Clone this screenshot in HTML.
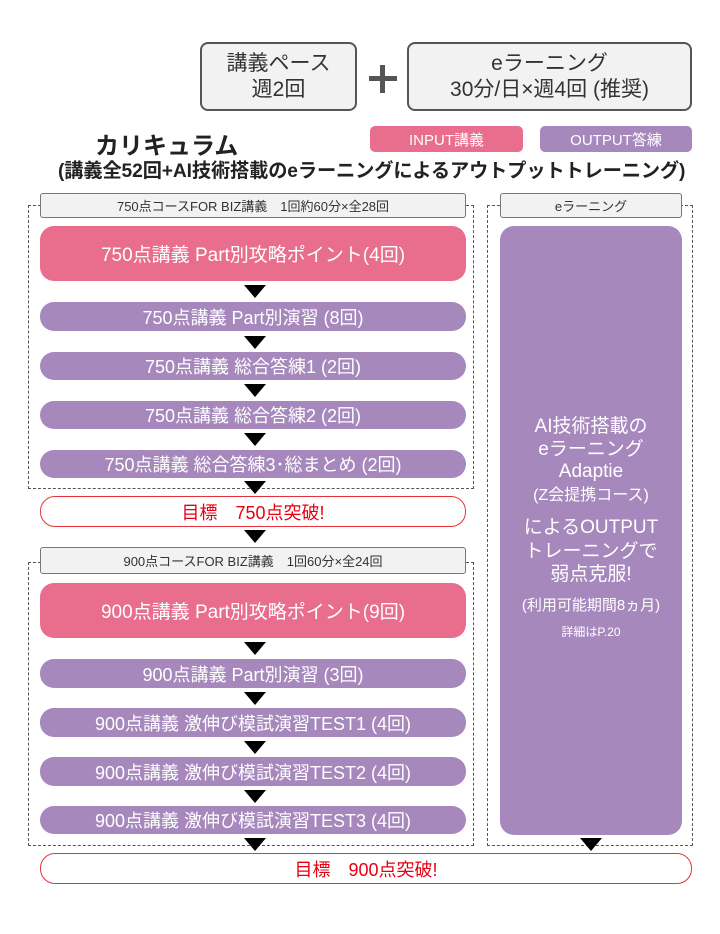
<!DOCTYPE html>
<html><head><meta charset="utf-8"><style>
*{margin:0;padding:0;box-sizing:border-box}
body{width:720px;height:934px;background:#fff;position:relative;overflow:hidden;font-family:"Liberation Sans","Noto Sans CJK JP",sans-serif}
.a{position:absolute}
.c{display:flex;align-items:center;justify-content:center;text-align:center;white-space:nowrap}
.top{background:#f2f2f2;border:2px solid #555;border-radius:8px;font-size:21px;color:#333;line-height:26px;flex-direction:column}
.lbl{background:#f2f2f2;border:1px solid #777;border-radius:3px;font-size:13px;color:#333}
.dash{border:1.5px dashed #555}
.pink{background:#e96d8c;color:#fff;border-radius:14px;font-size:19px}
.pur{background:#a688bd;color:#fff;border-radius:14px;font-size:18px}
.goal{background:#fff;border:1.5px solid #e8323c;border-radius:15px;color:#e60012;font-size:18px}
.tri{position:absolute;width:0;height:0;border-left:11px solid transparent;border-right:11px solid transparent;border-top:13px solid #000}
</style></head><body>
<div class="a c top" style="left:200px;top:42px;width:157px;height:69px">講義ペース<br>週2回</div>
<div class="a" style="left:369px;top:76px;width:28px;height:5px;background:#555"></div>
<div class="a" style="left:380px;top:65px;width:5px;height:28px;background:#555"></div>
<div class="a c top" style="left:407px;top:42px;width:285px;height:69px">eラーニング<br>30分/日×週4回 (推奨)</div>
<div class="a" style="left:95px;top:126px;font-size:24px;font-weight:bold;color:#222">カリキュラム</div>
<div class="a c" style="left:370px;top:126px;width:153px;height:26px;background:#e96d8c;border-radius:5px;color:#fff;font-size:15px">INPUT講義</div>
<div class="a c" style="left:540px;top:126px;width:152px;height:26px;background:#a688bd;border-radius:5px;color:#fff;font-size:15px">OUTPUT答練</div>
<div class="a" style="left:58px;top:155px;font-size:19.2px;font-weight:bold;color:#222;letter-spacing:-0.1px;white-space:nowrap">(講義全52回+AI技術搭載のeラーニングによるアウトプットトレーニング)</div>

<div class="a dash" style="left:28px;top:205px;width:446px;height:284px"></div>
<div class="a c lbl" style="left:40px;top:193px;width:426px;height:25px">750点コースFOR BIZ講義　1回約60分×全28回</div>
<div class="a dash" style="left:487px;top:205px;width:206px;height:641px"></div>
<div class="a c lbl" style="left:500px;top:193px;width:182px;height:25px">eラーニング</div>

<div class="a c pink" style="left:40px;top:226px;width:426px;height:55px">750点講義 Part別攻略ポイント(4回)</div>
<div class="tri" style="left:244px;top:285px"></div>
<div class="a c pur" style="left:40px;top:302px;width:426px;height:29px">750点講義 Part別演習 (8回)</div>
<div class="tri" style="left:244px;top:336px"></div>
<div class="a c pur" style="left:40px;top:352px;width:426px;height:28px">750点講義 総合答練1 (2回)</div>
<div class="tri" style="left:244px;top:384px"></div>
<div class="a c pur" style="left:40px;top:401px;width:426px;height:28px">750点講義 総合答練2 (2回)</div>
<div class="tri" style="left:244px;top:433px"></div>
<div class="a c pur" style="left:40px;top:450px;width:426px;height:28px">750点講義 総合答練3･総まとめ (2回)</div>
<div class="tri" style="left:244px;top:481px"></div>
<div class="a c goal" style="left:40px;top:496px;width:426px;height:31px">目標　750点突破!</div>
<div class="tri" style="left:244px;top:530px"></div>

<div class="a dash" style="left:28px;top:562px;width:446px;height:284px"></div>
<div class="a c lbl" style="left:40px;top:547px;width:426px;height:27px">900点コースFOR BIZ講義　1回60分×全24回</div>
<div class="a c pink" style="left:40px;top:583px;width:426px;height:55px">900点講義 Part別攻略ポイント(9回)</div>
<div class="tri" style="left:244px;top:642px"></div>
<div class="a c pur" style="left:40px;top:659px;width:426px;height:29px">900点講義 Part別演習 (3回)</div>
<div class="tri" style="left:244px;top:692px"></div>
<div class="a c pur" style="left:40px;top:708px;width:426px;height:29px">900点講義 激伸び模試演習TEST1 (4回)</div>
<div class="tri" style="left:244px;top:741px"></div>
<div class="a c pur" style="left:40px;top:757px;width:426px;height:29px">900点講義 激伸び模試演習TEST2 (4回)</div>
<div class="tri" style="left:244px;top:790px"></div>
<div class="a c pur" style="left:40px;top:806px;width:426px;height:28px">900点講義 激伸び模試演習TEST3 (4回)</div>
<div class="tri" style="left:244px;top:838px"></div>

<div class="a" style="left:500px;top:226px;width:182px;height:609px;background:#a688bd;border-radius:14px"></div>
<div class="a" style="left:500px;top:416px;width:182px;text-align:center;color:#fff;font-size:19px;line-height:22.5px">AI技術搭載の<br>eラーニング<br>Adaptie<br><span style="font-size:16px">(Z会提携コース)</span></div>
<div class="a" style="left:500px;top:516px;width:182px;text-align:center;color:#fff;font-size:19px;line-height:23.5px">によるOUTPUT<br>トレーニングで<br>弱点克服!</div>
<div class="a" style="left:500px;top:594px;width:182px;text-align:center;color:#fff;font-size:15px">(利用可能期間8ヵ月)</div>
<div class="a" style="left:500px;top:623px;width:182px;text-align:center;color:#fff;font-size:12px">詳細はP.20</div>
<div class="tri" style="left:580px;top:838px"></div>

<div class="a c goal" style="left:40px;top:853px;width:652px;height:31px">目標　900点突破!</div>
</body></html>
